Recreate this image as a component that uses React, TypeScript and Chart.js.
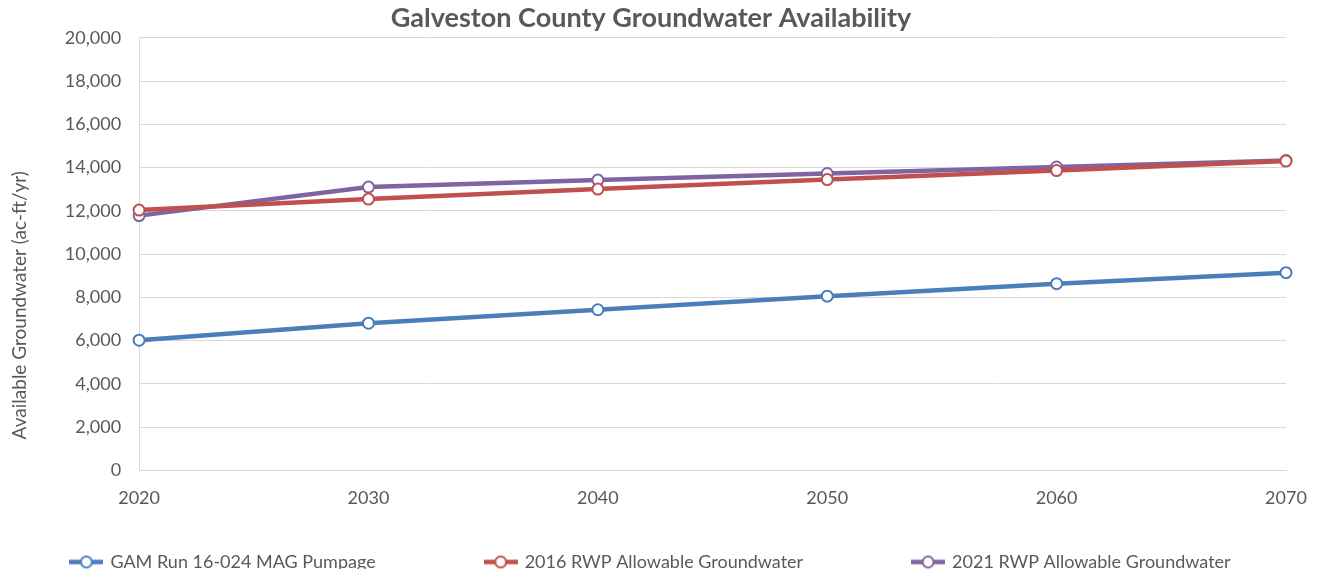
import React, { useEffect, useRef } from "react";
import { Chart, registerables } from "chart.js";

Chart.register(...registerables);

const years = ["2020", "2030", "2040", "2050", "2060", "2070"];
const gamMag = [6020, 6806, 7430, 8056, 8634, 9144];
const rwp2016 = [12037, 12546, 13009, 13449, 13866, 14306];
const rwp2021 = [11782, 13102, 13426, 13727, 14028, 14329];

const seriesNames = [
  "GAM Run 16-024 MAG Pumpage",
  "2016 RWP Allowable Groundwater",
  "2021 RWP Allowable Groundwater",
];
const colors = ["#4a7ebb", "#c0504d", "#8064a2"];

const FONT = "Lato, 'Open Sans', sans-serif";
const TEXT = "#595959";

function makeLegendIcon(color: string): HTMLCanvasElement {
  const c = document.createElement("canvas");
  c.width = 34;
  c.height = 15;
  const ctx = c.getContext("2d")!;
  ctx.strokeStyle = color;
  ctx.lineWidth = 4.5;
  ctx.beginPath();
  ctx.moveTo(0, 7.5);
  ctx.lineTo(34, 7.5);
  ctx.stroke();
  ctx.beginPath();
  ctx.arc(17, 7.5, 5.5, 0, Math.PI * 2);
  ctx.fillStyle = "#ffffff";
  ctx.fill();
  ctx.lineWidth = 2;
  ctx.stroke();
  return c;
}

export default function App() {
  const ref = useRef<HTMLCanvasElement | null>(null);

  useEffect(() => {
    if (!ref.current) return;
    const values = [gamMag, rwp2016, rwp2021];
    const icons = colors.map(makeLegendIcon);
    const gapSpaces = " ".repeat(18);
    const chart = new Chart(ref.current, {
      type: "line",
      data: {
        labels: years,
        datasets: values.map((v, i) => ({
          label: seriesNames[i],
          data: v,
          borderColor: colors[i],
          backgroundColor: "#ffffff",
          borderWidth: 4.5,
          pointRadius: 5.5,
          pointBorderWidth: 2,
          pointBackgroundColor: "#ffffff",
          pointBorderColor: colors[i],
          tension: 0,
        })),
      },
      options: {
        animation: false,
        responsive: true,
        maintainAspectRatio: false,
        layout: { padding: { top: 0, right: 21, bottom: -4, left: 0 } },
        plugins: {
          title: {
            display: true,
            text: "Galveston County Groundwater Availability",
            color: TEXT,
            font: { family: FONT, size: 27, weight: "bold" },
            padding: { top: -5.5, bottom: 3 },
          },
          legend: {
            position: "bottom",
            labels: {
              color: TEXT,
              font: { family: FONT, size: 18 },
              padding: 27,
              usePointStyle: true,
              pointStyleWidth: 30,
              generateLabels: (ch: any) =>
                ch.data.datasets.map((ds: any, i: number) => ({
                  text: ds.label + (i < 2 ? gapSpaces : ""),
                  fillStyle: "#fff",
                  strokeStyle: colors[i],
                  pointStyle: icons[i],
                  fontColor: TEXT,
                  hidden: false,
                  datasetIndex: i,
                })),
            },
          },
          tooltip: { enabled: false },
        },
        scales: {
          x: {
            type: "category",
            offset: false,
            grid: { display: false, drawTicks: false },
            border: { display: true, color: "#d9d9d9", width: 1 },
            ticks: {
              color: TEXT,
              font: { family: FONT, size: 18 },
              padding: 17,
              maxRotation: 0,
            },
            afterFit: (scale: any) => {
              scale.paddingRight = 29;
            },
          },
          y: {
            min: 0,
            max: 20000,
            grid: { color: "#d9d9d9", drawTicks: false },
            border: { display: true, color: "#d9d9d9" },
            ticks: {
              stepSize: 2000,
              color: TEXT,
              font: { family: FONT, size: 18 },
              padding: 18,
              callback: (v: any) => Number(v).toLocaleString("en-US"),
            },
            title: {
              display: true,
              text: "Available Groundwater (ac-ft/yr)" + " ".repeat(21),
              color: TEXT,
              font: { family: FONT, size: 19 },
              padding: { top: 0, bottom: 16 },
            },
          },
        },
      },
    });
    return () => chart.destroy();
  }, []);

  return (
    <div
      style={{
        width: "1307px",
        height: "569px",
        marginBottom: "-8px",
        position: "relative",
      }}
    >
      <canvas ref={ref} />
    </div>
  );
}
